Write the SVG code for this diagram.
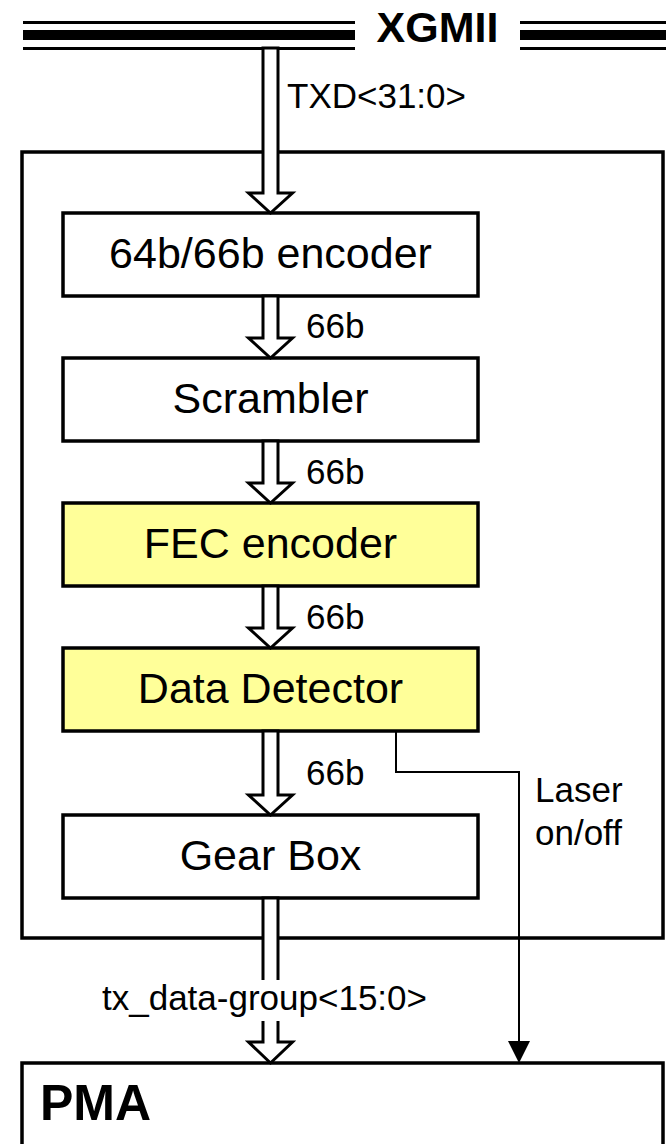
<svg xmlns="http://www.w3.org/2000/svg" width="666" height="1144" viewBox="0 0 666 1144">
<style>
.box{fill:#fff;stroke:#000;stroke-width:3.5}
.yel{fill:#FFFF99;stroke:#000;stroke-width:3.5}
.blk{font-family:"Liberation Sans",Arial,sans-serif;font-size:43px;text-anchor:middle;fill:#000}
.lbl{font-family:"Liberation Sans",Arial,sans-serif;font-size:35px;fill:#000}
.bold{font-family:"Liberation Sans",Arial,sans-serif;font-weight:bold;fill:#000}
.bus{fill:#fff;stroke:#000;stroke-width:3;stroke-linejoin:miter}
.thin{fill:none;stroke:#000;stroke-width:2}
</style>
<defs>
<marker id="solid" markerWidth="22" markerHeight="22" refX="11" refY="21" orient="auto" markerUnits="userSpaceOnUse" viewBox="0 0 22 22">
<path d="M0,0 L22,0 L11,22 Z" fill="#000" transform="rotate(-90 11 11)"/>
</marker>
</defs>
<g id="xgmii">
<rect x="23" y="21" width="332" height="3" fill="#000"/>
<rect x="23" y="30" width="332" height="10" fill="#000"/>
<rect x="23" y="47" width="332" height="3" fill="#000"/>
<rect x="520" y="21" width="146" height="3" fill="#000"/>
<rect x="520" y="30" width="146" height="10" fill="#000"/>
<rect x="520" y="47" width="146" height="3" fill="#000"/>
<text class="bold" x="437.5" y="42" font-size="43" text-anchor="middle">XGMII</text>
</g>
<g id="pcs">
<rect class="box" x="22" y="152" width="641" height="786"/>
</g>
<g id="encoder">
<rect class="box" x="63" y="213" width="415" height="83"/>
<text class="blk" x="270.5" y="268">64b/66b encoder</text>
</g>
<g id="scrambler">
<rect class="box" x="63" y="358" width="415" height="83"/>
<text class="blk" x="270.5" y="413">Scrambler</text>
</g>
<g id="fec">
<rect class="yel" x="63" y="503" width="415" height="83"/>
<text class="blk" x="270.5" y="558">FEC encoder</text>
</g>
<g id="detector">
<rect class="yel" x="63" y="648" width="415" height="83"/>
<text class="blk" x="270.5" y="703">Data Detector</text>
</g>
<g id="gearbox">
<rect class="box" x="63" y="815" width="415" height="83"/>
<text class="blk" x="270.5" y="870">Gear Box</text>
</g>
<g id="pma">
<rect class="box" x="22" y="1063" width="641" height="90"/>
<text class="bold" x="40" y="1120" font-size="50">PMA</text>
</g>
<g id="connectors">
<polygon class="bus" points="263,48 278,48 278,193 292.5,193 270.5,213 248.5,193 263,193"/>
<text class="lbl" x="287" y="108">TXD&lt;31:0&gt;</text>
<polygon class="bus" points="263,296 278,296 278,338 292.5,338 270.5,358 248.5,338 263,338"/>
<text class="lbl" x="306" y="338">66b</text>
<polygon class="bus" points="263,441 278,441 278,483 292.5,483 270.5,503 248.5,483 263,483"/>
<text class="lbl" x="306" y="484">66b</text>
<polygon class="bus" points="263,586 278,586 278,628 292.5,628 270.5,648 248.5,628 263,628"/>
<text class="lbl" x="306" y="629">66b</text>
<polygon class="bus" points="263,731 278,731 278,795 292.5,795 270.5,815 248.5,795 263,795"/>
<text class="lbl" x="306" y="785">66b</text>
<polygon class="bus" points="263,898 278,898 278,1042 292.5,1042 270.5,1063 248.5,1042 263,1042"/>
<rect x="255" y="980" width="31" height="41" fill="#fff"/>
<text class="lbl" x="102" y="1010">tx_data-group&lt;15:0&gt;</text>
<polyline class="thin" points="396,731 396,772 519,772 519,1044"/>
<polygon points="508,1041 530,1041 519,1063" fill="#000"/>
<text class="lbl" x="535" y="802">Laser</text>
<text class="lbl" x="535" y="845">on/off</text>
</g>
</svg>
